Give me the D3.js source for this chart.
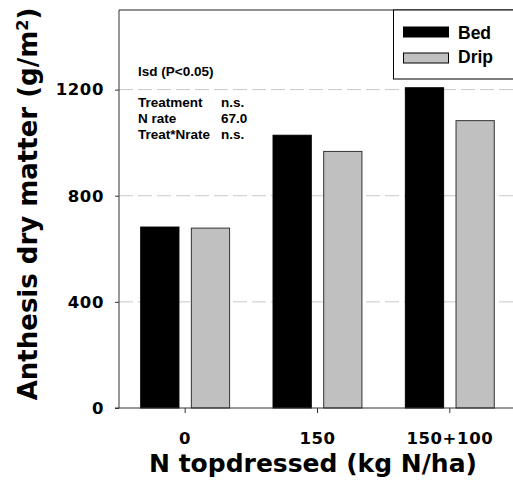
<!DOCTYPE html>
<html>
<head>
<meta charset="utf-8">
<script src="https://cdn.jsdelivr.net/npm/d3@7"></script>
<style>
  body { margin: 0; background: #fff; }
  svg { display: block; }
  .tick text { font-family: "DejaVu Sans", sans-serif; font-weight: bold; font-size: 16.5px; letter-spacing: 0.6px; fill: #000; }
  .note { font-family: "Liberation Sans", Arial, sans-serif; font-weight: bold; font-size: 13.5px; }
</style>
</head>
<body>
<script>
// DATA
const rates = ["0", "150", "150+100"];
const systems = ["Bed", "Drip"];
const bedValues = [682, 1028, 1207];
const dripValues = [678, 967, 1083];
const yTicks = [0, 400, 800, 1200];
const noteLabels = ["Treatment", "N rate", "Treat*Nrate"];
const noteValues = ["n.s.", "67.0", "n.s."];

const rows = rates.map((r, i) => ({ rate: r, values: [bedValues[i], dripValues[i]] }));

// FRAME
const margin = { top: 10, right: -3, bottom: 76, left: 119 };
const W = 513, H = 484;
const width = 397, height = H - margin.top - margin.bottom;

const svg = d3.select("body").append("svg")
  .attr("width", W).attr("height", H);

const g = svg.append("g").attr("transform", `translate(${margin.left},${margin.top})`);

// SCALES
const x0 = d3.scaleBand().domain(rates).range([0, width]).paddingInner(0).paddingOuter(0);
const x1 = d3.scaleBand().domain(systems).range([21.7, 110.6]).paddingInner(0.245);
const y = d3.scaleLinear().domain([0, 1500]).range([height, 0]);
const fill = d3.scaleOrdinal().domain(systems).range(["#000000", "#c0c0c0"]);

// gridlines
g.selectAll(".grid").data(yTicks.filter(d => d > 0)).enter()
  .append("line")
  .attr("x1", 0).attr("x2", width)
  .attr("y1", d => y(d)).attr("y2", d => y(d))
  .attr("stroke", "#c8c8c8").attr("stroke-width", 1)
  .attr("stroke-dasharray", "14,5");

// frame top line
g.append("line").attr("x1", 0).attr("x2", width).attr("y1", 0).attr("y2", 0)
  .attr("stroke", "#222").attr("stroke-width", 1);

// bars
const groups = g.selectAll(".grp").data(rows).enter().append("g")
  .attr("transform", d => `translate(${x0(d.rate)},0)`);

groups.selectAll("rect").data(d => d.values.map((v, i) => ({ key: systems[i], value: v })))
  .enter().append("rect")
  .attr("x", d => x1(d.key))
  .attr("width", x1.bandwidth())
  .attr("y", d => y(d.value))
  .attr("height", d => height - y(d.value))
  .attr("fill", d => fill(d.key))
  .attr("stroke", d => d.key === "Bed" ? "#000" : "#333")
  .attr("stroke-width", 1);

// AXES
const yAxis = g.append("g")
  .call(d3.axisLeft(y).tickValues(yTicks).tickFormat(d3.format("d")).tickSize(4).tickPadding(11).tickSizeOuter(0));
yAxis.select(".domain").attr("stroke", "#333").attr("d", `M0,0V${height}`);
yAxis.selectAll(".tick line").attr("stroke", "#333");

const xAxis = g.append("g").attr("transform", `translate(0,${height})`)
  .call(d3.axisBottom(x0).tickSize(5).tickPadding(19).tickSizeOuter(0));
xAxis.select(".domain").attr("stroke", "#333").attr("d", `M-4,0H${width}`);
xAxis.selectAll(".tick line").attr("stroke", "#333");

// axis titles
const yTitle = svg.append("text")
  .attr("transform", "translate(37,204) rotate(-90)")
  .attr("text-anchor", "middle")
  .style("font-family", "'DejaVu Sans', sans-serif")
  .style("font-weight", "bold")
  .style("font-size", "26px");
yTitle.append("tspan").text("Anthesis dry matter (g/m");
yTitle.append("tspan").attr("baseline-shift", "super").style("font-size", "16px").text("2");
yTitle.append("tspan").text(")");

svg.append("text")
  .attr("x", 313).attr("y", 472)
  .attr("text-anchor", "middle")
  .style("font-family", "'DejaVu Sans', sans-serif")
  .style("font-weight", "bold")
  .style("font-size", "25px")
  .text("N topdressed (kg N/ha)");

// LEGEND
const legend = svg.append("g").attr("transform", "translate(393.5,10)");
legend.append("rect").attr("x", 0).attr("y", 0).attr("width", 140).attr("height", 69)
  .attr("fill", "#fff").attr("stroke", "#000").attr("stroke-width", 1);
systems.forEach((s, i) => {
  legend.append("rect").attr("x", 10).attr("y", 17 + i * 26).attr("width", 45).attr("height", 10)
    .attr("fill", fill(s)).attr("stroke", "#000").attr("stroke-width", 1);
  legend.append("text").attr("x", 64.5).attr("y", 29.3 + i * 24)
    .style("font-family", "'Liberation Sans', Arial, sans-serif")
    .style("font-weight", "bold").style("font-size", "17.5px")
    .text(s);
});

// LSD NOTES
svg.append("text").attr("class", "note").attr("x", 138).attr("y", 76).text("lsd (P<0.05)");
noteLabels.forEach((t, i) => {
  svg.append("text").attr("class", "note").attr("x", 138).attr("y", 107 + i * 16).text(t);
  svg.append("text").attr("class", "note").attr("x", 221).attr("y", 107 + i * 16).text(noteValues[i]);
});
</script>
</body>
</html>
